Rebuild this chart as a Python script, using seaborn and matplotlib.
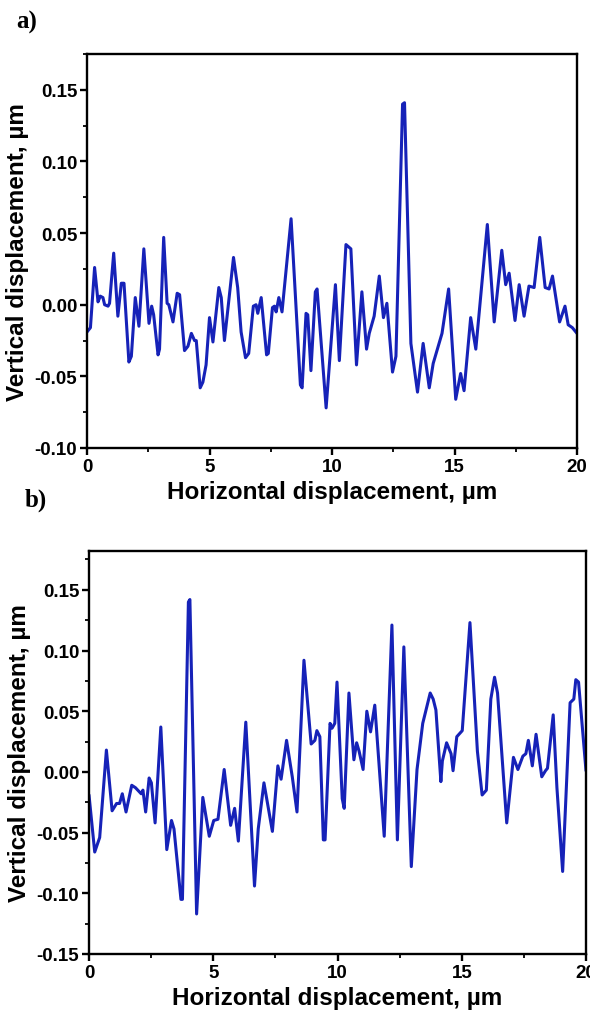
import matplotlib
matplotlib.use("Agg")
import matplotlib.pyplot as plt
from matplotlib.ticker import MultipleLocator, FormatStrFormatter
import seaborn as sns
import pandas as pd

# ---- data ----
top_x = [0, 0.14, 0.31, 0.45, 0.54, 0.65, 0.72, 0.86, 0.92, 1.09, 1.26, 1.40, 1.51, 1.71, 1.81,
         1.97, 2.12, 2.32, 2.53, 2.64, 2.72, 2.90, 2.96, 3.13, 3.27, 3.34, 3.51, 3.68, 3.78, 3.98,
         4.12, 4.26, 4.39, 4.46, 4.62, 4.73, 4.86, 5.00, 5.14, 5.38, 5.48, 5.61, 5.98, 6.15, 6.29,
         6.47, 6.60, 6.79, 6.90, 6.97, 7.11, 7.33, 7.40, 7.57, 7.65, 7.72, 7.83, 7.96, 8.33, 8.71,
         8.78, 8.94, 9.01, 9.14, 9.32, 9.39, 9.76, 10.14, 10.30, 10.57, 10.77, 11.00, 11.22, 11.41,
         11.52, 11.72, 11.93, 12.10, 12.24, 12.47, 12.61, 12.88, 12.96, 13.22, 13.49, 13.72, 13.97,
         14.13, 14.49, 14.76, 15.05, 15.25, 15.39, 15.66, 15.87, 16.34, 16.62, 16.93, 17.09, 17.23,
         17.47, 17.64, 17.84, 18.04, 18.25, 18.48, 18.70, 18.86, 19.00, 19.29, 19.51, 19.64, 19.81, 20.0]
top_y = [-0.019, -0.016, 0.026, 0.002, 0.006, 0.005, 0.000, -0.001, 0.001, 0.036, -0.008, 0.015,
         0.015, -0.040, -0.036, 0.005, -0.015, 0.039, -0.013, -0.001, -0.007, -0.035, -0.031, 0.047,
         0.001, 0.000, -0.012, 0.008, 0.007, -0.032, -0.029, -0.020, -0.025, -0.025, -0.058, -0.054,
         -0.042, -0.009, -0.026, 0.012, 0.005, -0.025, 0.033, 0.012, -0.019, -0.037, -0.034, -0.001,
         0.000, -0.006, 0.005, -0.035, -0.034, -0.002, -0.001, -0.005, 0.005, -0.005, 0.060, -0.056,
         -0.058, -0.006, -0.007, -0.046, 0.009, 0.011, -0.072, 0.014, -0.039, 0.042, 0.039, -0.042,
         0.009, -0.031, -0.020, -0.008, 0.020, -0.009, 0.001, -0.047, -0.036, 0.140, 0.141, -0.027,
         -0.061, -0.027, -0.058, -0.041, -0.020, 0.011, -0.066, -0.048, -0.060, -0.009, -0.031, 0.056,
         -0.012, 0.038, 0.014, 0.022, -0.011, 0.014, -0.008, 0.013, 0.012, 0.047, 0.012, 0.011, 0.020,
         -0.012, -0.001, -0.014, -0.016, -0.020]

bot_x = [0, 0.23, 0.43, 0.70, 0.93, 1.11, 1.23, 1.34, 1.49, 1.72,
         1.87, 2.10, 2.17, 2.28, 2.42, 2.51, 2.66, 2.89, 3.13, 3.32,
         3.42, 3.70, 3.76, 4.00, 4.06, 4.33, 4.58, 4.84, 5.02, 5.19,
         5.44, 5.70, 5.86, 6.01, 6.31, 6.66, 6.81, 7.04, 7.38, 7.60,
         7.73, 7.95, 8.18, 8.37, 8.65, 8.94, 9.09, 9.17, 9.29, 9.43,
         9.50, 9.70, 9.78, 9.89, 9.98, 10.19, 10.27, 10.46, 10.66, 10.77,
         10.87, 11.03, 11.18, 11.33, 11.50, 11.88, 12.19, 12.41, 12.67, 12.97,
         13.20, 13.43, 13.73, 13.85, 13.96, 14.16, 14.22, 14.39, 14.57, 14.65,
         14.80, 15.02, 15.33, 15.63, 15.82, 15.99, 16.17, 16.32, 16.44, 16.81,
         17.08, 17.26, 17.46, 17.58, 17.68, 17.84, 17.99, 18.22, 18.37, 18.45,
         18.68, 18.83, 19.06, 19.36, 19.51, 19.59, 19.70, 20.0]
bot_y = [-0.019, -0.066, -0.054, 0.018, -0.032, -0.026, -0.026, -0.018, -0.033, -0.011,
         -0.013, -0.018, -0.015, -0.033, -0.005, -0.009, -0.042, 0.037, -0.064, -0.040,
         -0.047, -0.105, -0.105, 0.140, 0.142, -0.117, -0.021, -0.053, -0.040, -0.039,
         0.002, -0.044, -0.030, -0.057, 0.041, -0.094, -0.047, -0.009, -0.049, 0.005,
         -0.006, 0.026, -0.004, -0.033, 0.092, 0.023, 0.026, 0.034, 0.029, -0.056,
         -0.056, 0.040, 0.036, 0.040, 0.074, -0.022, -0.030, 0.065, 0.010, 0.024,
         0.017, 0.002, 0.050, 0.033, 0.055, -0.053, 0.121, -0.056, 0.103, -0.078,
         0.002, 0.040, 0.065, 0.060, 0.051, -0.008, 0.009, 0.024, 0.015, 0.001,
         0.029, 0.034, 0.123, 0.017, -0.019, -0.015, 0.060, 0.078, 0.065, -0.042,
         0.012, 0.002, 0.013, 0.015, 0.026, 0.005, 0.031, -0.004, 0.001, 0.003,
         0.047, -0.013, -0.082, 0.057, 0.060, 0.076, 0.074, 0.001]

x_label = "Horizontal displacement, µm"
y_label = "Vertical displacement, µm"
panel_labels = ["a)", "b)"]

# ---- style ----
sns.set_style("ticks")
plt.rcParams['font.family'] = ['Liberation Sans', 'DejaVu Sans']
plt.rcParams['font.weight'] = 'bold'
plt.rcParams['text.color'] = 'black'
plt.rcParams['axes.labelcolor'] = 'black'
plt.rcParams['xtick.color'] = 'black'
plt.rcParams['ytick.color'] = 'black'

LINE = "#1622b8"
W, H = 590, 1020
fig = plt.figure(figsize=(W / 100, H / 100), dpi=100)

def px_axes(left, top, right, bottom):
    return fig.add_axes([left / W, 1 - bottom / H, (right - left) / W, (bottom - top) / H])

ax1 = px_axes(87, 55, 577, 449)
ax2 = px_axes(89, 552, 586, 955)

df1 = pd.DataFrame({"x": top_x, "y": top_y})
df2 = pd.DataFrame({"x": bot_x, "y": bot_y})

for ax, df in [(ax1, df1), (ax2, df2)]:
    sns.lineplot(data=df, x="x", y="y", ax=ax, color=LINE, linewidth=2.2, sort=False,
                 estimator=None, solid_joinstyle='round', solid_capstyle='round')

for ax, ylim in [(ax1, (-0.10, 0.175)), (ax2, (-0.15, 0.182))]:
    ax.set_xlim(0, 20)
    ax.set_ylim(*ylim)
    ax.xaxis.set_major_locator(MultipleLocator(5))
    ax.xaxis.set_minor_locator(MultipleLocator(2.5))
    ax.yaxis.set_major_locator(MultipleLocator(0.05))
    ax.yaxis.set_minor_locator(MultipleLocator(0.025))
    ax.yaxis.set_major_formatter(FormatStrFormatter('%.2f'))
    ax.xaxis.set_major_formatter(FormatStrFormatter('%d'))
    for s in ax.spines.values():
        s.set_visible(True)
        s.set_linewidth(1.7)
        s.set_color("black")
    ax.tick_params(axis='both', which='major', direction='out', length=5, width=1.7,
                   labelsize=13.5, colors='black', pad=2)
    ax.tick_params(axis='both', which='minor', direction='out', length=3, width=1.3,
                   colors='black')
    ax.tick_params(top=False, right=False, which='both')
    for lab in ax.get_xticklabels() + ax.get_yticklabels():
        lab.set_fontweight('bold')
    ax.set_xlabel(x_label, fontsize=17.5, fontweight='bold', labelpad=4, color='black')
    ax.set_ylabel(y_label, fontsize=17.5, fontweight='bold', labelpad=4, color='black')
    ax.grid(False)

fig.text(27 / W, 1 - 22 / H, panel_labels[0], family=['Liberation Serif', 'DejaVu Serif'],
         fontsize=18, fontweight='bold', ha='center', va='center')
fig.text(36 / W, 1 - 500 / H, panel_labels[1], family=['Liberation Serif', 'DejaVu Serif'],
         fontsize=18, fontweight='bold', ha='center', va='center')

fig.savefig("out.png", dpi=100, facecolor="white")
